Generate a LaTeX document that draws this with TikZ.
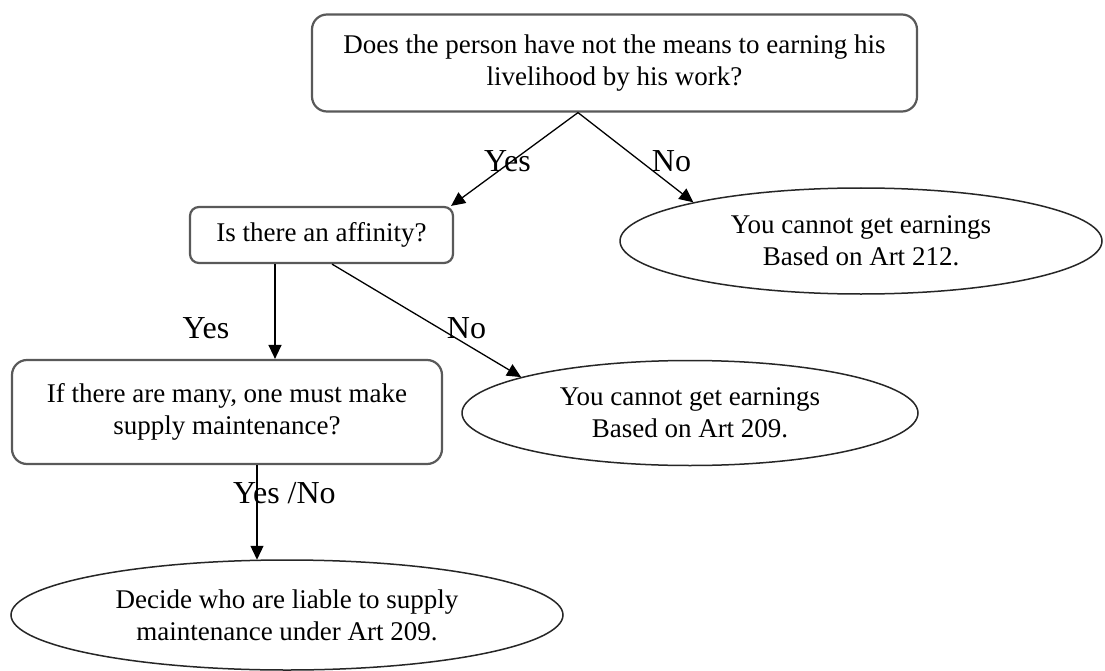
\documentclass[tikz,border=0pt]{standalone}
\usepackage{fontspec}
\setmainfont{Liberation Serif}
\usetikzlibrary{arrows.meta,shapes.geometric}
\newcommand\bxfont{\fontsize{27}{32}\selectfont}
\newcommand\lblfont{\fontsize{32}{36}\selectfont}
\begin{document}
\begin{tikzpicture}[x=1pt,y=-1pt,
  qbox/.style={draw=black!65, line width=2.2pt, fill=white, inner sep=0pt,
               align=center, font=\bxfont},
  endnode/.style={ellipse, draw=black!85, line width=1.5pt, fill=white,
                  inner sep=0pt, align=center, font=\bxfont},
  arr/.style={draw=black, line width=1.3pt,
              -{Triangle[length=14pt,width=13pt]}},
  lbl/.style={anchor=base, inner sep=0pt, font=\lblfont}]
\useasboundingbox (0,0) rectangle (1105,671);
\fill[white] (0,0) rectangle (1105,671);

% decision boxes
\node[qbox, rounded corners=15pt, minimum width=605pt, minimum height=97pt]
  (top) at (614.5,63)
  {Does the person have not the means to earning his\\livelihood by his work?};
\node[qbox, rounded corners=9pt, minimum width=263pt, minimum height=56pt]
  (aff) at (321.5,235) {Is there an affinity?};
\node[qbox, rounded corners=15pt, minimum width=430pt, minimum height=104pt]
  (many) at (227,412) {If there are many, one must make\\supply maintenance?};

% outcomes
\node[endnode, minimum width=482pt, minimum height=106pt]
  (r212) at (861,241) {You cannot get earnings\\Based on Art 212.};
\node[endnode, minimum width=456pt, minimum height=105pt]
  (r209) at (690,413) {You cannot get earnings\\Based on Art 209.};
\node[endnode, minimum width=552pt, minimum height=110pt]
  (liable) at (287,615) {Decide who are liable to supply\\maintenance under Art 209.};

% connectors
\draw[arr] ([xshift=-36.5pt]top.south) -- ([xshift=-3pt]aff.north east);
\draw[arr] ([xshift=-36.5pt]top.south) -- (r212.167.5);
\draw[arr] ([xshift=-46.5pt]aff.south) -- ([xshift=-46.5pt]aff.south |- many.north);
\draw[arr] ([xshift=10.5pt]aff.south) -- (r209.168);
\draw[arr] ([xshift=30pt]many.south) -- ([xshift=30pt,yshift=-0.5pt]many.south |- liable.north);

% branch labels
\node[lbl] (y1) at (507.5,172) {Yes};
\node[lbl] (n1) at (671.5,172) {No};
\node[lbl] (y2) at (206,338) {Yes};
\node[lbl] (n2) at (466.5,338) {No};
\node[lbl] (yn) at (284.5,503) {Yes /No};
\end{tikzpicture}
\end{document}
